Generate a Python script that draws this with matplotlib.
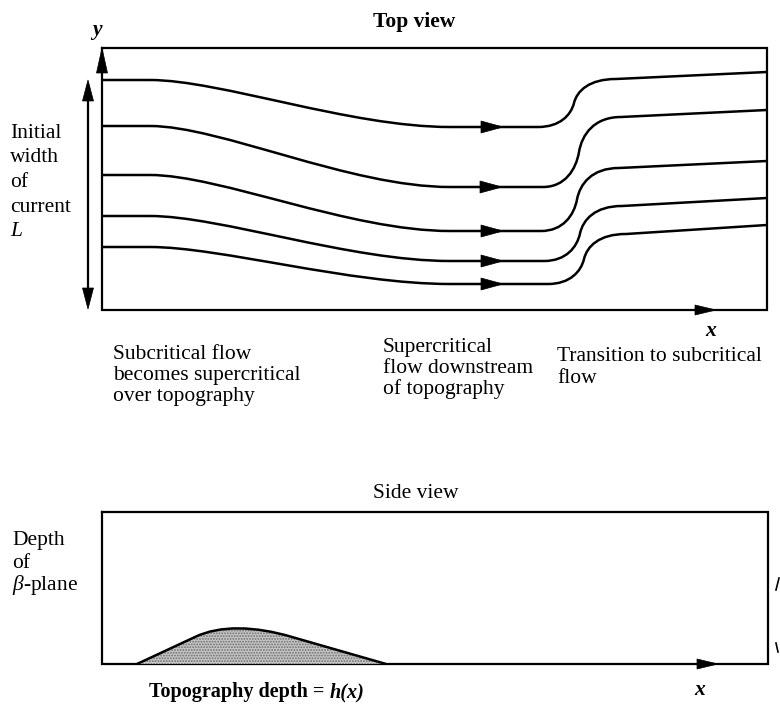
#Top view / side view sketch of a current crossing topography
import matplotlib.pyplot as plt
from matplotlib.path import Path
from matplotlib.patches import PathPatch, Polygon

plt.rcParams['font.family'] = ['Liberation Serif', 'DejaVu Serif']
plt.rcParams['mathtext.fontset'] = 'custom'
plt.rcParams['mathtext.rm'] = 'Liberation Serif'
plt.rcParams['mathtext.it'] = 'Liberation Serif:italic'
plt.rcParams['mathtext.bf'] = 'Liberation Serif:bold'
plt.rcParams['hatch.color'] = '#5a5a5a'
plt.rcParams['hatch.linewidth'] = 0.9

# streamlines in the top view (picture units, y grows downward)
start_y = [80, 126, 175, 216, 247]      # upstream, subcritical
super_y = [127, 187, 231, 261, 284]     # downstream of topography, supercritical
jump_x = [574, 579, 577, 580, 584]      # centre of the jump back
after_y = [79, 117, 168, 206, 234]      # just after the jump
end_y = [72, 110, 161, 198, 225]        # at the right edge
arrow_tip_x = [503, 502, 503, 503, 503]

# topography profile in the side view
hump_x = [137, 195, 220, 255, 292, 386]
hump_y = [664, 637, 625, 626, 637, 664]

top_box = [102, 767, 48, 310]   # left, right, top, bottom
side_box = [102, 768, 512, 664]

left_top_lines = ['Initial', 'width', 'of', 'current', '$\\mathit{L}$']
left_side_lines = ['Depth', 'of', '$\\mathit{\\beta}$-plane']
note1 = ['Subcritical flow', 'becomes supercritical', 'over topography']
note2 = ['Supercritical', 'flow downstream', 'of topography']
note3 = ['Transition to subcritical', 'flow']

FS = 15.5
LW = 1.8

fig = plt.figure(figsize=(7.8, 7.05), dpi=100)
ax = fig.add_axes([0, 0, 1, 1])
ax.set_xlim(0, 780)
ax.set_ylim(705, 0)
ax.axis('off')


def head(tx, ty, d, length, half):
    # filled triangular arrow head, d in 'r', 'u', 'd'
    if d == 'r':
        pts = [(tx, ty), (tx - length, ty - half), (tx - length, ty + half)]
    elif d == 'u':
        pts = [(tx, ty), (tx - half, ty + length), (tx + half, ty + length)]
    else:
        pts = [(tx, ty), (tx - half, ty - length), (tx + half, ty - length)]
    ax.add_patch(Polygon(pts, closed=True, facecolor='black', edgecolor='black', lw=0.5, zorder=5))


def box(b):
    l, r, t, bo = b
    ax.plot([l, r, r, l, l], [t, t, bo, bo, t], color='black', lw=1.6, solid_joinstyle='miter')


# ---- top view ----
box(top_box)
head(top_box[0], top_box[2], 'u', 25, 5.5)
head(716, top_box[3], 'r', 21, 5)

for i in range(len(start_y)):
    y0, ys, jx, ya, ye = start_y[i], super_y[i], jump_x[i], after_y[i], end_y[i]
    ym = (ys + ya) / 2
    h = ys - ym
    verts = [(top_box[0], y0), (150, y0),
             (220, y0), (350, ys), (450, ys),
             (jx - 36, ys),
             (jx - 14, ys), (jx - 3, ym + 0.5 * h), (jx, ym),
             (jx + 3, ym - 0.5 * h), (jx + 15, ya), (jx + 42, ya),
             (top_box[1], ye)]
    codes = [Path.MOVETO, Path.LINETO,
             Path.CURVE4, Path.CURVE4, Path.CURVE4,
             Path.LINETO,
             Path.CURVE4, Path.CURVE4, Path.CURVE4,
             Path.CURVE4, Path.CURVE4, Path.CURVE4,
             Path.LINETO]
    ax.add_patch(PathPatch(Path(verts, codes), facecolor='none', edgecolor='black', lw=LW))
    head(arrow_tip_x[i], ys, 'r', 22, 6)

# width of the current
ax.plot([88, 88], [95, 292], color='black', lw=1.6)
head(88, 80, 'u', 21, 5.5)
head(88, 309, 'd', 21, 5.5)

ax.text(97, 30, 'y', fontsize=FS, style='italic', weight='bold', ha='center', va='center')
ax.text(414, 27, 'Top view', fontsize=FS, weight='bold', ha='center', va='baseline')
ax.text(711, 331, 'x', fontsize=FS, style='italic', weight='bold', ha='center', va='center')

for k, s in enumerate(left_top_lines):
    ax.text(10, 138 + 24.5 * k, s, fontsize=FS, ha='left', va='baseline')
for k, s in enumerate(note1):
    ax.text(113, 359 + 21 * k, s, fontsize=FS, ha='left', va='baseline')
for k, s in enumerate(note2):
    ax.text(383, 352 + 21 * k, s, fontsize=FS, ha='left', va='baseline')
for k, s in enumerate(note3):
    ax.text(557, 361 + 22 * k, s, fontsize=FS, ha='left', va='baseline')

# ---- side view ----
box(side_box)
head(718, side_box[3], 'r', 21, 5)

hv = list(zip(hump_x, hump_y))
hc = [Path.MOVETO, Path.LINETO, Path.CURVE4, Path.CURVE4, Path.CURVE4, Path.LINETO]
ax.add_patch(PathPatch(Path(hv + [hv[0]], hc + [Path.LINETO]), facecolor='#c4c4c4',
                       edgecolor='#707070', hatch='......', lw=0, zorder=2))
ax.add_patch(PathPatch(Path(hv, hc), facecolor='none', edgecolor='black', lw=LW, zorder=3))

ax.text(416, 498, 'Side view', fontsize=FS, ha='center', va='baseline')
ax.text(700, 690, 'x', fontsize=FS, style='italic', weight='bold', ha='center', va='center')
for k, s in enumerate(left_side_lines):
    ax.text(12, 545 + 22.5 * k, s, fontsize=FS, ha='left', va='baseline')

t1 = ax.text(149, 697, 'Topography depth = ', fontsize=14.5, weight='bold', ha='left', va='baseline')
ax.annotate('h(x)', xy=(1, 0), xycoords=t1, fontsize=14.5, weight='bold', style='italic',
            ha='left', va='bottom')

# bits of letters cut off by the right edge of the page
ax.plot([776, 779], [590, 578], color='black', lw=1.2)
ax.plot([776, 778], [643, 652], color='black', lw=1.2)

fig.savefig('out.png', dpi=100)
